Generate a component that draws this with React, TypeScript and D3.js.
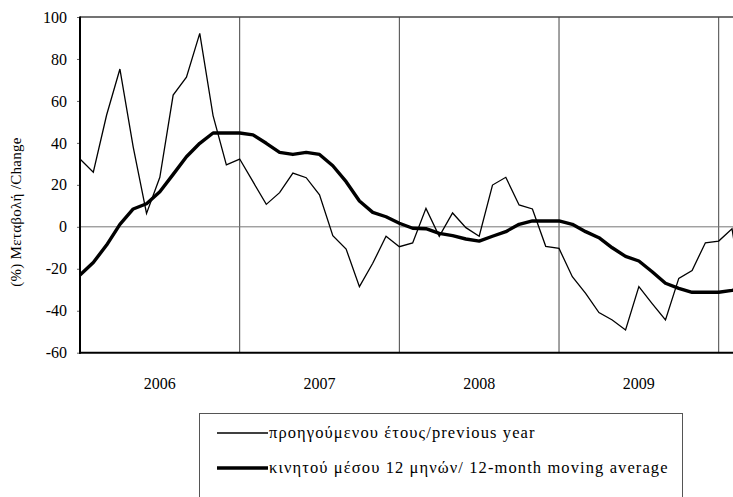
import React, { useEffect, useRef } from 'react';
import * as d3 from 'd3';

// monthly values from Jan 2006, index 0 = Jan 2006
const yoyChange = [
  32.3, 26, 53.3, 75.2, 38, 6.4, 23.6, 62.8, 71.3, 92.2, 53, 29.5,
  32.3, 21.5, 10.7, 16.3, 25.6, 23.4, 15.2, -4.2, -10.6, -28.5, -17.4, -4.5,
  -9.5, -7.7, 8.8, -4.5, 6.6, -0.4, -4.5, 19.9, 23.6, 10.4, 8.5, -9.3,
  -10.3, -23.8, -31.7, -40.9, -44.4, -49.2, -28.5, -36.6, -44.4, -24.6, -20.8, -7.6,
  -6.8, -0.9, -40,
];
const movingAvg = [
  -23, -17, -8.7, 1.2, 8.5, 11, 16.7, 25, 33.4, 39.8, 44.7, 44.7,
  44.7, 43.8, 39.8, 35.5, 34.5, 35.5, 34.5, 29.1, 21.5, 12.3, 6.9, 4.8,
  1.7, -0.7, -0.9, -3.1, -4.2, -5.8, -6.8, -4.5, -2.3, 1.2, 2.8, 2.8,
  2.8, 1.2, -2.3, -5.2, -10, -14.1, -16.3, -21.4, -26.9, -29.3, -31.2, -31.2,
  -31.2, -30.3, -29,
];
const years = ['2006', '2007', '2008', '2009'];
const yTicks = [-60, -40, -20, 0, 20, 40, 60, 80, 100];
const legendLabels = [
  'προηγούμενου έτους/previous year',
  'κινητού μέσου 12 μηνών/ 12-month moving average',
];

const App: React.FC = () => {
  const ref = useRef<SVGSVGElement>(null);
  const width = 733;
  const height = 497;

  useEffect(() => {
    if (!ref.current) return;
    const svg = d3.select(ref.current);
    svg.selectAll('*').remove();

    const left = 80;
    const top = 17;
    const bottom = 352.7;
    const font = '"Liberation Serif", "DejaVu Serif", serif';

    const x = d3.scaleLinear().domain([0, 48]).range([left, 718.7]);
    const y = d3.scaleLinear().domain([-60, 100]).range([bottom, top]);

    // top border
    svg.append('line')
      .attr('x1', left).attr('x2', width + 5)
      .attr('y1', top).attr('y2', top)
      .attr('stroke', '#444').attr('stroke-width', 1.5);

    // year separators
    [12, 24, 36, 48].forEach(m => {
      svg.append('line')
        .attr('x1', x(m)).attr('x2', x(m))
        .attr('y1', top).attr('y2', bottom)
        .attr('stroke', '#444').attr('stroke-width', 1);
    });

    // zero line
    svg.append('line')
      .attr('x1', left).attr('x2', width + 5)
      .attr('y1', y(0)).attr('y2', y(0))
      .attr('stroke', '#777').attr('stroke-width', 1);

    // y axis
    const yAxis = svg.append('g')
      .attr('transform', `translate(${left},0)`)
      .call(d3.axisLeft(y).tickValues(yTicks).tickSize(3).tickPadding(10).tickFormat(d => String(d)));
    yAxis.select('.domain').remove();
    yAxis.selectAll('line').attr('stroke', '#666');
    yAxis.selectAll('text')
      .attr('font-family', font).attr('font-size', 16).attr('fill', '#000');

    svg.append('line')
      .attr('x1', left).attr('x2', left)
      .attr('y1', top - 0.5).attr('y2', bottom + 1)
      .attr('stroke', '#000').attr('stroke-width', 2);
    svg.append('line')
      .attr('x1', left - 1).attr('x2', width + 5)
      .attr('y1', bottom).attr('y2', bottom)
      .attr('stroke', '#000').attr('stroke-width', 2);

    // year labels
    svg.selectAll('text.year')
      .data(years)
      .enter()
      .append('text')
      .attr('class', 'year')
      .attr('x', (_, i) => x(i * 12 + 6))
      .attr('y', 389)
      .attr('text-anchor', 'middle')
      .attr('font-family', font).attr('font-size', 16)
      .text(d => d);

    // y title
    svg.append('text')
      .attr('transform', `translate(21,212) rotate(-90)`)
      .attr('text-anchor', 'middle')
      .attr('font-family', font).attr('font-size', 15)
      .attr('letter-spacing', 0.3)
      .text('(%) Μεταβολή /Change');

    const line = d3.line<number>().x((_, i) => x(i)).y(d => y(d));

    svg.append('path')
      .datum(movingAvg)
      .attr('fill', 'none').attr('stroke', '#000')
      .attr('stroke-width', 3.4).attr('stroke-linejoin', 'round')
      .attr('d', line);

    svg.append('path')
      .datum(yoyChange)
      .attr('fill', 'none').attr('stroke', '#000')
      .attr('stroke-width', 1.3).attr('stroke-linejoin', 'miter')
      .attr('d', line);

    // legend
    svg.append('rect')
      .attr('x', 199.5).attr('y', 413.5)
      .attr('width', 483).attr('height', 100)
      .attr('fill', '#fff').attr('stroke', '#555').attr('stroke-width', 1);

    legendLabels.forEach((label, i) => {
      const ly = 433 + i * 35;
      svg.append('line')
        .attr('x1', 217).attr('x2', 268)
        .attr('y1', ly).attr('y2', ly)
        .attr('stroke', '#000').attr('stroke-width', i === 0 ? 1.3 : 3.4);
      svg.append('text')
        .attr('x', 269).attr('y', ly + 5)
        .attr('font-family', font).attr('font-size', 16.5)
        .attr('letter-spacing', 1.1)
        .text(label);
    });
  }, []);

  return (
    <svg
      ref={ref}
      width={width}
      height={height}
      style={{ position: 'absolute', left: 0, top: 0, background: '#fff' }}
    />
  );
};

export default App;
